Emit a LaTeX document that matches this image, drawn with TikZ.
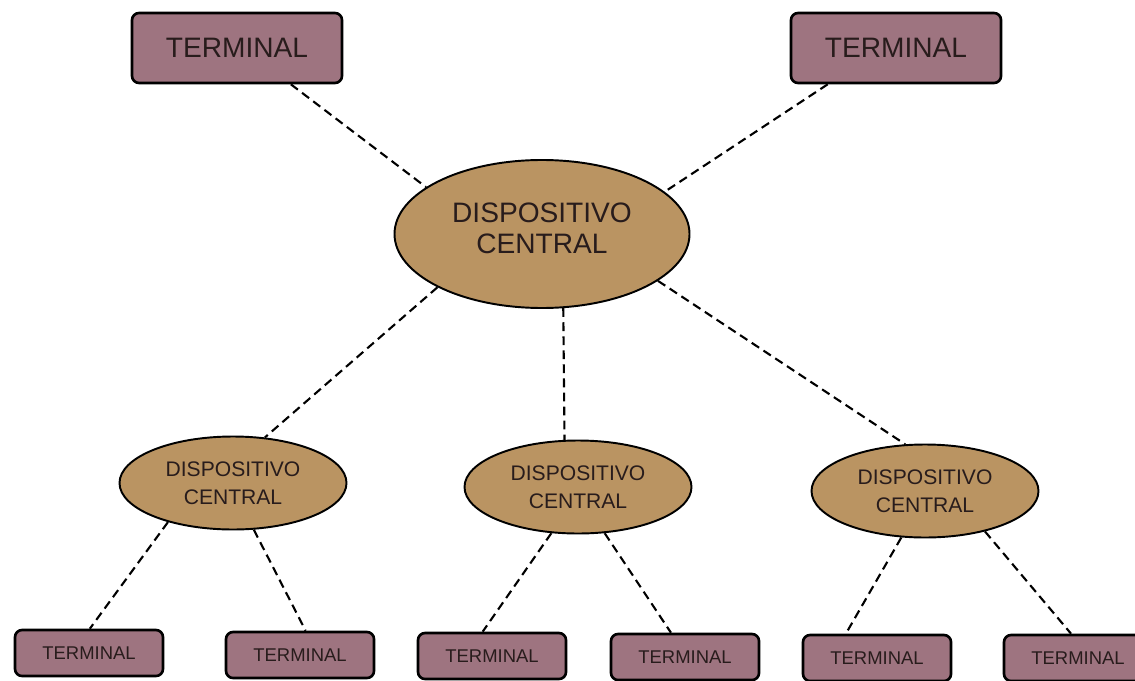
\documentclass[tikz,border=0pt]{standalone}
\usepackage{fontspec}
\setmainfont{Liberation Sans}
\usetikzlibrary{shapes.geometric}
\definecolor{termfill}{RGB}{158,116,128}
\definecolor{ovalfill}{RGB}{186,148,98}
\definecolor{inkdark}{RGB}{40,28,28}

\begin{document}
\begin{tikzpicture}[
	terminal/.style={rectangle, rounded corners=4pt, draw=black, line width=1.5pt, fill=termfill, text=inkdark, inner sep=0pt},
	bigterm/.style={terminal, minimum width=4.2cm, minimum height=1.4cm, font=\fontsize{16}{18}\selectfont},
	smallterm/.style={terminal, minimum width=2.96cm, minimum height=0.92cm, font=\fontsize{10.5}{12}\selectfont},
	central/.style={ellipse, draw=black, line width=1.1pt, fill=ovalfill, text=inkdark, inner sep=0pt, align=center},
	midcentral/.style={central, minimum width=4.54cm, minimum height=1.86cm, font=\fontsize{12}{16}\selectfont},
	link/.style={dashed, line width=1.2pt, dash pattern=on 5pt off 3pt}
	]
				\useasboundingbox (0,0) rectangle (22.7,-13.6);
				\node[bigterm] (t1) at (4.74,-0.96) {TERMINAL};
				\node[bigterm] (t2) at (17.92,-0.96) {TERMINAL};
				\node[central, minimum width=5.9cm, minimum height=2.96cm, font=\fontsize{16}{17.6}\selectfont] (c) at (10.84,-4.68) {DISPOSITIVO\\CENTRAL\\[-10.8pt]};
				
				\node[midcentral] (m1) at (4.66,-9.66) {DISPOSITIVO\\CENTRAL};
				\node[midcentral] (m2) at (11.56,-9.74) {DISPOSITIVO\\CENTRAL};
				\node[midcentral] (m3) at (18.5,-9.82) {DISPOSITIVO\\CENTRAL};
				
				\node[smallterm] (b1) at (1.78,-13.06) {TERMINAL};
				\node[smallterm] (b2) at (6.0,-13.1) {TERMINAL};
				\node[smallterm] (b3) at (9.84,-13.12) {TERMINAL};
				\node[smallterm] (b4) at (13.7,-13.14) {TERMINAL};
				\node[smallterm] (b5) at (17.54,-13.16) {TERMINAL};
				\node[smallterm] (b6) at (21.56,-13.16) {TERMINAL};
				
				\draw[link] (t1.-34) -- (c.158);
				\draw[link] (t2.208) -- (c.19);
				\draw[link] (c.207) -- (m1.55);
				\draw[link] (c.286) -- (m2.106);
				\draw[link] (c.338) -- (m3.113);
				
				\draw[link] (m1.211) -- (b1.88);
				\draw[link] (m1.294) -- (b2.77);
				\draw[link] (m2.240) -- (b3.111);
				\draw[link] (m2.300) -- (b4.120);
				\draw[link] (m3.243) -- (b5.142);
				\draw[link] (m3.326) -- (b6.106);
			\end{tikzpicture}
\end{document}
